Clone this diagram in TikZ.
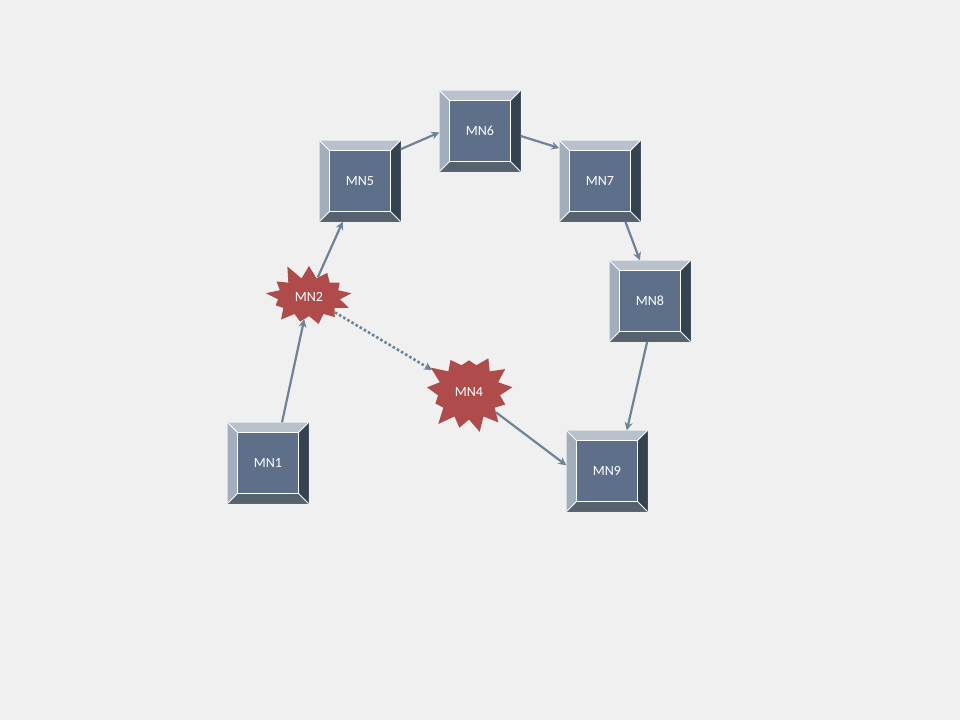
\documentclass[tikz,border=0pt]{standalone}
\usepackage{fontspec}
\setmainfont{Carlito}
\usetikzlibrary{shapes.symbols,arrows.meta}
\definecolor{paper}{HTML}{F0F0F0}
\definecolor{boxface}{HTML}{5E7089}
\definecolor{beveltop}{HTML}{B9C1CC}
\definecolor{bevelleft}{HTML}{A3AEBC}
\definecolor{bevelright}{HTML}{35424F}
\definecolor{bevelbottom}{HTML}{56636F}
\definecolor{burst}{HTML}{B04B4B}
\definecolor{link}{HTML}{6E8298}
\tikzset{
  bevelbox/.style={rectangle, minimum size=81pt, inner sep=0pt, fill=boxface,
    text=white, font=\fontsize{14}{16}\selectfont,
    path picture={
      \path (path picture bounding box.north west) coordinate (bnw)
            (path picture bounding box.north east) coordinate (bne)
            (path picture bounding box.south east) coordinate (bse)
            (path picture bounding box.south west) coordinate (bsw);
      \fill[beveltop] (bnw) -- (bne) -- ([shift={(-10pt,-10pt)}]bne) -- ([shift={(10pt,-10pt)}]bnw) -- cycle;
      \fill[bevelleft] (bnw) -- (bsw) -- ([shift={(10pt,10pt)}]bsw) -- ([shift={(10pt,-10pt)}]bnw) -- cycle;
      \fill[bevelright] (bne) -- (bse) -- ([shift={(-10pt,10pt)}]bse) -- ([shift={(-10pt,-10pt)}]bne) -- cycle;
      \fill[bevelbottom] (bsw) -- (bse) -- ([shift={(-10pt,10pt)}]bse) -- ([shift={(10pt,10pt)}]bsw) -- cycle;
      \draw[white, line width=1.2pt] ([shift={(10pt,-10pt)}]bnw) rectangle ([shift={(-10pt,10pt)}]bse);
      \draw[white, line width=1pt] (bnw) -- ([shift={(10pt,-10pt)}]bnw)
        (bne) -- ([shift={(-10pt,-10pt)}]bne)
        (bse) -- ([shift={(-10pt,10pt)}]bse)
        (bsw) -- ([shift={(10pt,10pt)}]bsw);
    }},
  burstnode/.style={starburst, starburst points=13, starburst point height=16pt,
    random starburst=#1, fill=burst, draw=none, text=white,
    inner xsep=8pt, inner ysep=9pt,
    font=\fontsize{14}{16}\selectfont},
  link/.style={draw=link, line width=2.2pt, -{Stealth[length=8pt,width=8pt]}},
  dotlink/.style={link, line width=2.6pt, dash pattern=on 2.6pt off 2.2pt}
}
\begin{document}
\begin{tikzpicture}[x=1pt,y=-1pt]
\fill[paper] (0,0) rectangle (960,720);
\useasboundingbox (0,0) rectangle (960,720);

% boxes
\node[bevelbox] (mn1) at (268,463) {MN1};
\node[bevelbox] (mn5) at (360,181) {MN5};
\node[bevelbox] (mn6) at (480,131) {MN6};
\node[bevelbox] (mn7) at (600,181) {MN7};
\node[bevelbox] (mn8) at (650,301) {MN8};
\node[bevelbox] (mn9) at (607,471) {MN9};

% failed nodes
\node[burstnode=11] (mn2) at (309,297) {MN2};
\node[burstnode=23, inner ysep=15pt] (mn4) at (469,392) {MN4};

% links
\draw[link] (mn1.71) -- (mn2);
\draw[link] (mn2) -- (mn5.247);
\draw[link] (mn5.38) -- (mn6.182);
\draw[link] (mn6.353) -- (mn7.141);
\draw[link] (mn7.302) -- (mn8.104);
\draw[link] (mn8.266) -- (mn9.64);
\draw[link] (mn4) -- (mn9.172);
\draw[dotlink] (mn2) -- (mn4);
\end{tikzpicture}
\end{document}
